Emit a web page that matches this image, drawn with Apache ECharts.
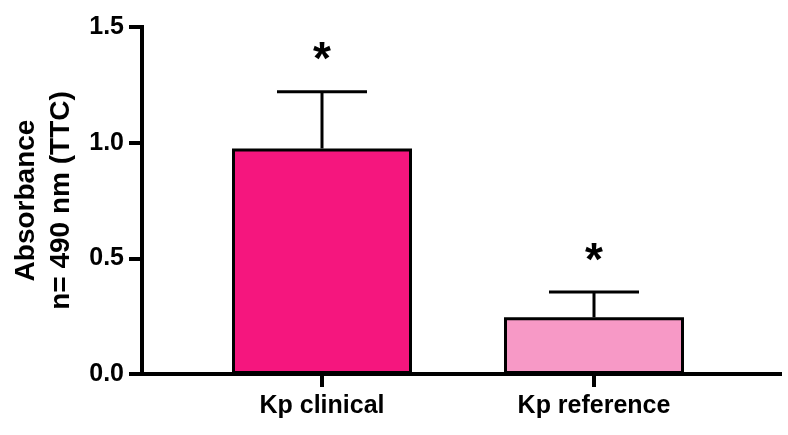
<!DOCTYPE html>
<html>
<head>
<meta charset="utf-8">
<script src="https://cdn.jsdelivr.net/npm/echarts@6/dist/echarts.min.js"></script>
<style>
  html, body { margin: 0; padding: 0; background: #ffffff; }
  #chart { width: 788px; height: 435px; }
</style>
</head>
<body>
<div id="chart"></div>
<script>
// ---- data ----
const categories = ['Kp clinical', 'Kp reference'];
const means = [0.975, 0.245];
const sds = [0.245, 0.11];
const significance = ['*', '*'];
const barColors = ['#F5167E', '#F799C6'];
const yMin = 0, yMax = 1.5, yInterval = 0.5;
const yTitle = 'Absorbance\nn= 490 nm (TTC)';

const FONT = 'Liberation Sans, Arial, Helvetica, sans-serif';
const chart = echarts.init(document.getElementById('chart'), null, { renderer: 'canvas' });

const errData = categories.map((c, i) => [i, means[i], sds[i], significance[i]]);

const option = {
  backgroundColor: '#ffffff',
  animation: false,
  grid: [
    { left: 142, right: 8, top: 27, bottom: 61 },
    { left: 186, right: 58, top: 27, bottom: 61 }
  ],
  xAxis: [
    {
      gridIndex: 0, type: 'value', min: 0, max: 1,
      axisLine: { show: true, lineStyle: { color: '#000', width: 4, cap: 'square' } },
      axisTick: { show: false }, axisLabel: { show: false }, splitLine: { show: false }
    },
    {
      gridIndex: 1, type: 'category', data: categories,
      axisLine: { show: false },
      axisTick: { show: true, alignWithLabel: true, length: 13, lineStyle: { color: '#000', width: 4 } },
      axisLabel: { color: '#000', fontFamily: FONT, fontWeight: 'bold', fontSize: 25, margin: 20 },
      splitLine: { show: false }
    }
  ],
  yAxis: [
    {
      gridIndex: 0, type: 'value', min: yMin, max: yMax, interval: yInterval,
      name: yTitle, nameLocation: 'middle', nameRotate: 90, nameGap: 62,
      nameTextStyle: { color: '#000', fontFamily: FONT, fontWeight: 'bold', fontSize: 28, lineHeight: 35, align: 'center' },
      axisLine: { show: true, lineStyle: { color: '#000', width: 4, cap: 'square' } },
      axisTick: { show: true, length: 13, lineStyle: { color: '#000', width: 4 } },
      axisLabel: { color: '#000', fontFamily: FONT, fontWeight: 'bold', fontSize: 25, margin: 18,
        formatter: v => v.toFixed(1) },
      splitLine: { show: false }
    },
    {
      gridIndex: 1, type: 'value', min: yMin, max: yMax, interval: yInterval, show: false,
      splitLine: { show: false }
    }
  ],
  series: [
    {
      type: 'bar', xAxisIndex: 1, yAxisIndex: 1, barWidth: 180,
      data: means.map((v, i) => ({ value: v, itemStyle: { color: barColors[i] } })),
      itemStyle: { borderColor: '#000', borderWidth: 3 },
      z: 2
    },
    {
      type: 'custom', xAxisIndex: 1, yAxisIndex: 1, z: 3,
      data: errData,
      renderItem: function (params, api) {
        const x = api.value(0), m = api.value(1), s = api.value(2);
        const base = api.coord([x, m]);
        const up = api.coord([x, m + s]);
        const half = 45;
        const sty = { stroke: '#000', lineWidth: 3 };
        return {
          type: 'group',
          children: [
            { type: 'line', shape: { x1: base[0], y1: base[1], x2: up[0], y2: up[1] }, style: sty },
            { type: 'line', shape: { x1: up[0] - half, y1: up[1], x2: up[0] + half, y2: up[1] }, style: sty },
            { type: 'text', style: { text: errData[params.dataIndex][3], x: up[0], y: up[1] - 30,
                align: 'center', verticalAlign: 'middle', fill: '#000',
                font: 'bold 46px ' + FONT } }
          ]
        };
      }
    }
  ]
};
chart.setOption(option);
</script>
</body>
</html>
